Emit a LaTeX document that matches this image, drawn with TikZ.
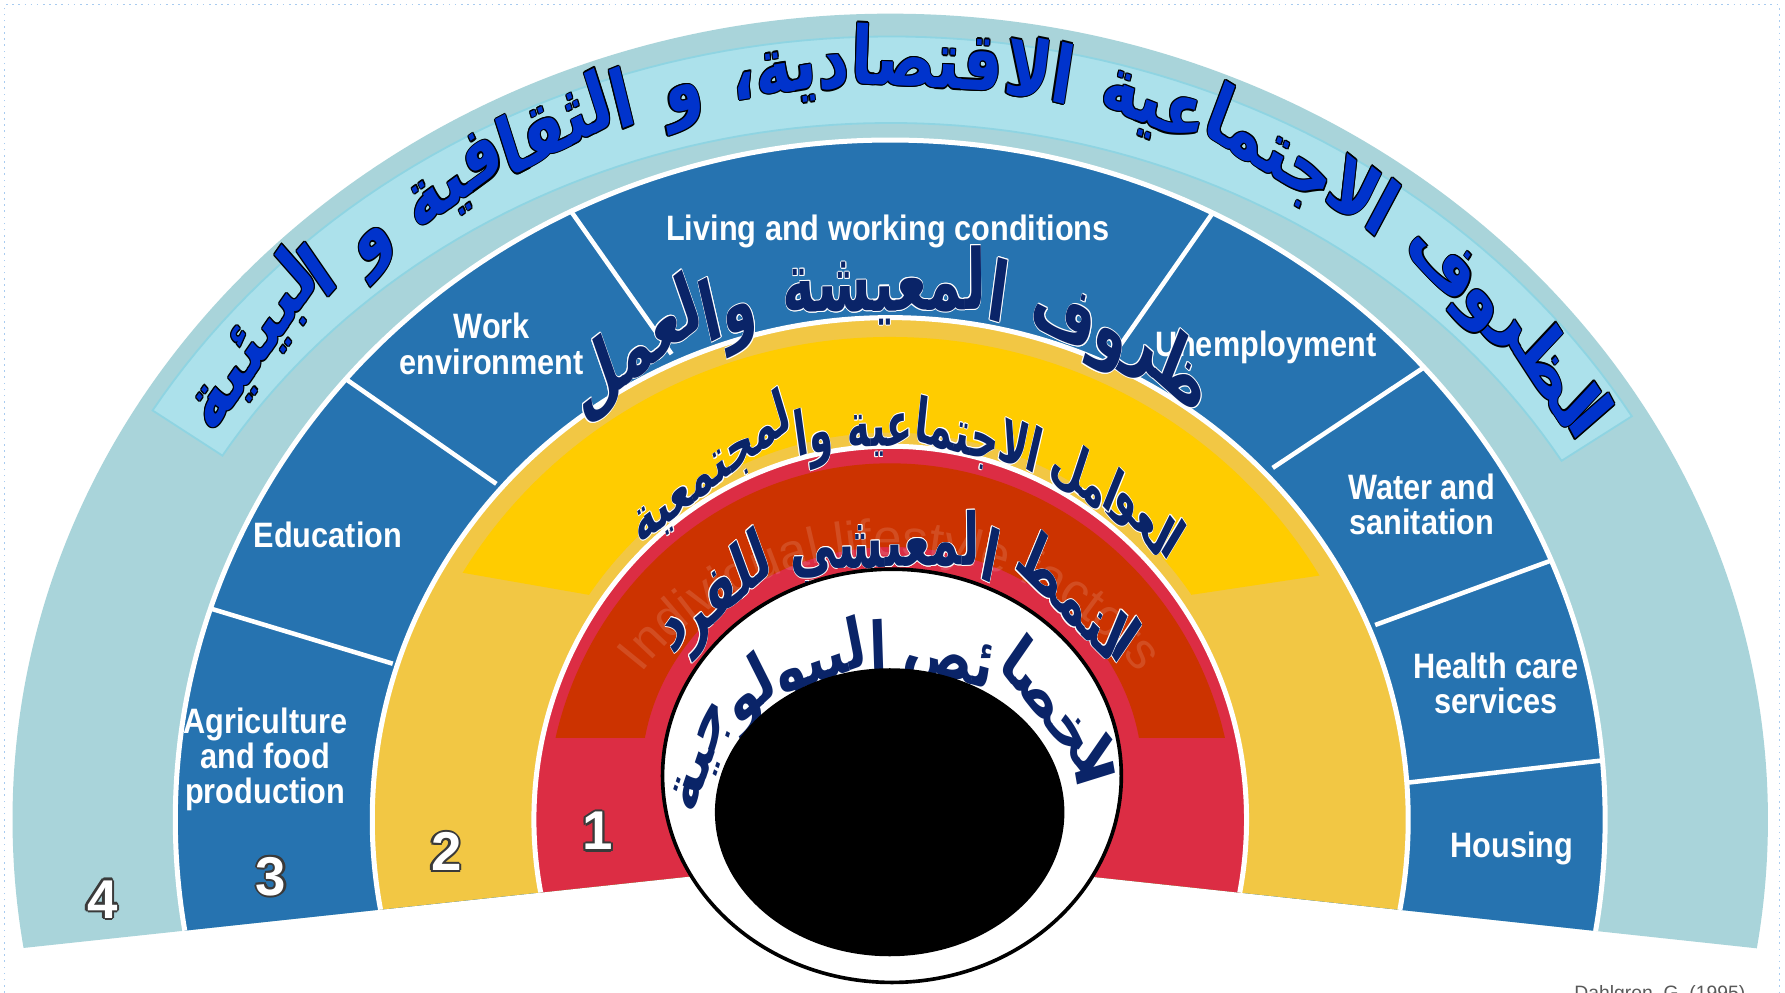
\documentclass[tikz,border=0pt]{standalone}
\usepackage{fontspec}
\usetikzlibrary{decorations.text}
\TeXXeTstate=1
\newfontfamily\arf[Script=Arabic]{DejaVu Sans}
\newfontfamily\labf[FakeStretch=0.87]{Liberation Sans}
\newfontfamily\numf{Liberation Sans}
\newfontfamily\wmf{Liberation Sans}

\definecolor{bfour}{HTML}{A9D4DA}
\definecolor{stripc}{HTML}{ACE1EB}
\definecolor{stripb}{HTML}{8FD4E2}
\definecolor{bthree}{HTML}{2673B0}
\definecolor{btwo}{HTML}{F2C744}
\definecolor{brightc}{HTML}{FFCC00}
\definecolor{bone}{HTML}{DC2D44}
\definecolor{borange}{HTML}{CC3300}
\definecolor{titleblue}{HTML}{0033CC}
\definecolor{navyc}{HTML}{0A2468}
\definecolor{numg}{HTML}{3A3A3A}
\definecolor{framec}{HTML}{A8CBF0}

% outlined text by copies
\newbox\oltbox
\newdimen\oltd
\newcommand\olt[4]{{\oltd=#3\relax\setbox\oltbox\hbox{#4}%
 \rlap{\color{#1}\kern\oltd\copy\oltbox}%
 \rlap{\color{#1}\kern-\oltd\copy\oltbox}%
 \rlap{\color{#1}\raise\oltd\copy\oltbox}%
 \rlap{\color{#1}\lower\oltd\copy\oltbox}%
 \rlap{\color{#1}\kern0.7\oltd\raise0.7\oltd\copy\oltbox}%
 \rlap{\color{#1}\kern-0.7\oltd\raise0.7\oltd\copy\oltbox}%
 \rlap{\color{#1}\kern0.7\oltd\lower0.7\oltd\copy\oltbox}%
 \rlap{\color{#1}\kern-0.7\oltd\lower0.7\oltd\copy\oltbox}%
 {\color{#2}\copy\oltbox}}}

\newcommand\ftitle[1]{{\arf\bfseries\fontsize{27.5}{33}\selectfont\olt{black}{titleblue}{0.5pt}{\beginR#1\endR}}}
\newcommand\fliv[1]{{\arf\bfseries\fontsize{24.5}{30}\selectfont\olt{white}{navyc}{0.3pt}{\beginR#1\endR}}}
\newcommand\fsoc[1]{{\arf\bfseries\fontsize{17}{21}\selectfont\olt{white}{navyc}{0.25pt}{\beginR#1\endR}}}
\newcommand\flife[1]{{\arf\bfseries\fontsize{20.5}{25}\selectfont\olt{white}{navyc}{0.25pt}{\beginR#1\endR}}}
\newcommand\fbio[1]{{\arf\bfseries\fontsize{22.5}{27}\selectfont\color{navyc}\beginR#1\endR}}

% text chunks along an elliptic arc, right to left
\newcounter{chn}
\newbox\chbox
\def\spmark{+}
\newcommand\arctext[9]{%
 \xdef\curt{#5}%
 \foreach \ch in {#8}{%
  \edef\tmpch{\ch}%
  \ifx\tmpch\spmark
   \pgfmathsetmacro\myL{100*sqrt(((#3)/100*sin(\curt))^2+((#4)/100*cos(\curt))^2)}%
   \pgfmathsetmacro\myt{\curt+(#9)/\myL*57.29578}%
   \xdef\curt{\myt}%
  \else
   \pgfinterruptpicture
    \setbox\chbox\hbox{#6{\ch}}%
    \xdef\mywd{\the\wd\chbox}%
   \endpgfinterruptpicture
   \pgfmathsetmacro\myw{2*\mywd}%
   \pgfmathsetmacro\myL{100*sqrt(((#3)/100*sin(\curt))^2+((#4)/100*cos(\curt))^2)}%
   \pgfmathsetmacro\mytm{\curt+0.5*\myw/\myL*57.29578}%
   \pgfmathsetmacro\myLm{100*sqrt(((#3)/100*sin(\mytm))^2+((#4)/100*cos(\mytm))^2)}%
   \pgfmathsetmacro\mytm{\curt+0.5*\myw/\myLm*57.29578}%
   \pgfmathsetmacro\mynt{\curt+\myw/\myLm*57.29578}%
   \pgfmathsetmacro\myrot{atan2(-(#4)*cos(\mytm),(#3)*sin(\mytm))}%
   \stepcounter{chn}%
   \node[#7,anchor=base,rotate=\myrot,inner sep=0pt] (ch\thechn) at ({#1+(#3)*cos(\mytm)},{#2-(#4)*sin(\mytm)}) {#6{\ch}};%
   \xdef\curt{\mynt}%
  \fi}}

\tikzset{
 lab/.style={text=white, font=\labf\bfseries\fontsize{15.5}{15.5}\selectfont, align=center, inner sep=0pt},
 numst/.style={font=\numf\bfseries\fontsize{24}{24}\selectfont, inner sep=0pt},
 sep/.style={white, line width=2pt},
 gapline/.style={draw=white, line width=2.2pt}
}

\begin{document}
\begin{tikzpicture}[x=0.5pt,y=-0.5pt]
\useasboundingbox (0,0) rectangle (1568,872);
\fill[white] (0,0) rectangle (1568,872);
\draw[framec, dotted, line width=0.7pt] (4,872) -- (4,4) -- (1563,4) -- (1563,872);

\begin{scope}
 \clip (-10,-10) -- (1580,-10) -- (1580,837) -- (782,751) -- (-10,836) -- cycle;
 % band 4
 \fill[bfour] (782,720) ellipse [x radius=771, y radius=708];
 \fill[stripc, draw=stripb, line width=0.8pt]
   plot[domain=31:148.5, samples=90] ({782+760*cos(\x)},{720-688*sin(\x)})
   -- plot[domain=148.5:31, samples=90] ({782+688*cos(\x)},{720-612*sin(\x)}) -- cycle;
 % band 3
 \fill[bthree, gapline] (782,720) ellipse [x radius=628, y radius=597];
 \begin{scope}
  \clip (782,720) ellipse [x radius=628, y radius=597];
  \draw[sep] (160,527) -- (345,583);
  \draw[sep] (288,322) -- (436,425);
  \draw[sep] (492,172) -- (590,311);
  \draw[sep] (1073,176) -- (980,309);
  \draw[sep] (1264,314) -- (1118,411);
  \draw[sep] (1380,486) -- (1208,549);
  \draw[sep] (1425,666) -- (1232,688);
 \end{scope}
 % band 2
 \fill[btwo, gapline] (782,720) ellipse [x radius=455, y radius=441];
 \begin{scope}
  \clip (0,-10) -- (1568,-10) -- (1568,444) -- (1010,528) -- (560,530) -- (0,432) -- cycle;
  \fill[brightc, even odd rule] (782,720) ellipse [x radius=437, y radius=424]
        (782,720) ellipse [x radius=325, y radius=340];
 \end{scope}
 % band 1
 \fill[bone, gapline] (782,720) ellipse [x radius=313, y radius=328];
 \begin{scope}
  \clip (0,0) rectangle (1568,648);
  \fill[borange, even odd rule] (782,720) ellipse [x radius=302, y radius=313]
        (783.5,681.5) ellipse [x radius=220, y radius=201];
 \end{scope}
\end{scope}

% English labels
\node[lab] (l1) at (780,203) {Living and working conditions};
\node[lab] (l2) at (432,302) {Work\\environment};
\node[lab] (l3) at (288,470) {Education};
\node[lab] (l4) at (233,667) {Agriculture\\and food\\production};
\node[lab] (l5) at (1112,305) {Unemployment};
\node[lab] (l6) at (1249,443) {Water and\\sanitation};
\node[lab] (l7) at (1314,600) {Health care\\services};
\node[lab] (l8) at (1328,745) {Housing};

% numbers
\node[numst] (n4) at (90,790) {\olt{numg}{white}{1pt}{4}};
\node[numst] (n3) at (238,770) {\olt{numg}{white}{1pt}{3}};
\node[numst] (n2) at (392,748) {\olt{numg}{white}{1pt}{2}};
\node[numst] (n1) at (525,730) {\olt{numg}{white}{1pt}{1}};

% watermark
\begin{scope}[opacity=0.13]
 \path[decorate, decoration={text along path, text align=center, text color=white,
   text={|\wmf\fontsize{22.5}{22.5}\selectfont|Individual lifestyle factors}}]
   plot[domain=170:10, samples=110] ({782+262*cos(\x)},{720-232*sin(\x)});
\end{scope}

% Arabic titles
\arctext{782}{720}{705}{644}{31}{\ftitle}{yscale=1.28}{ا,لظر,و,ف,+,ا,لا,جتما,عية,+,ا,لا,قتصا,د,ية،,+,و,+,ا,لثقا,فية,+,و,+,ا,لبيئية}{26}
\arctext{782}{720}{458}{447}{54}{\fliv}{yscale=1.5}{ظر,و,ف,+,ا,لمعيشة,+,و,ا,لعمل}{22}
\arctext{782}{720}{340}{328}{44}{\fsoc}{yscale=1.6}{ا,لعو,ا,مل,+,ا,لا,جتما,عية,+,و,ا,لمجتمعية}{12}
\arctext{782}{720}{255}{222}{38}{\flife}{yscale=1.55}{ا,لنمط,+,ا,لمعيشي,+,للفر,د}{15}

% central disc
\draw[black, line width=1.6pt, fill=white] (783.5,681.5) ellipse [x radius=201.5, y radius=181.5];
\arctext{783}{702}{165}{112}{5}{\fbio}{yscale=1.35}{ا,لخصا,ئص,+,ا,لبيو,لو,جية}{12}
\fill[black] (781.5,713.5) ellipse [x radius=153.5, y radius=126.5];

\node[anchor=north, font=\wmf\fontsize{8.5}{9}\selectfont, text=gray!70!black, inner sep=0pt] (src) at (1458,865) {Dahlgren, G. (1995)};
\end{tikzpicture}
\end{document}
